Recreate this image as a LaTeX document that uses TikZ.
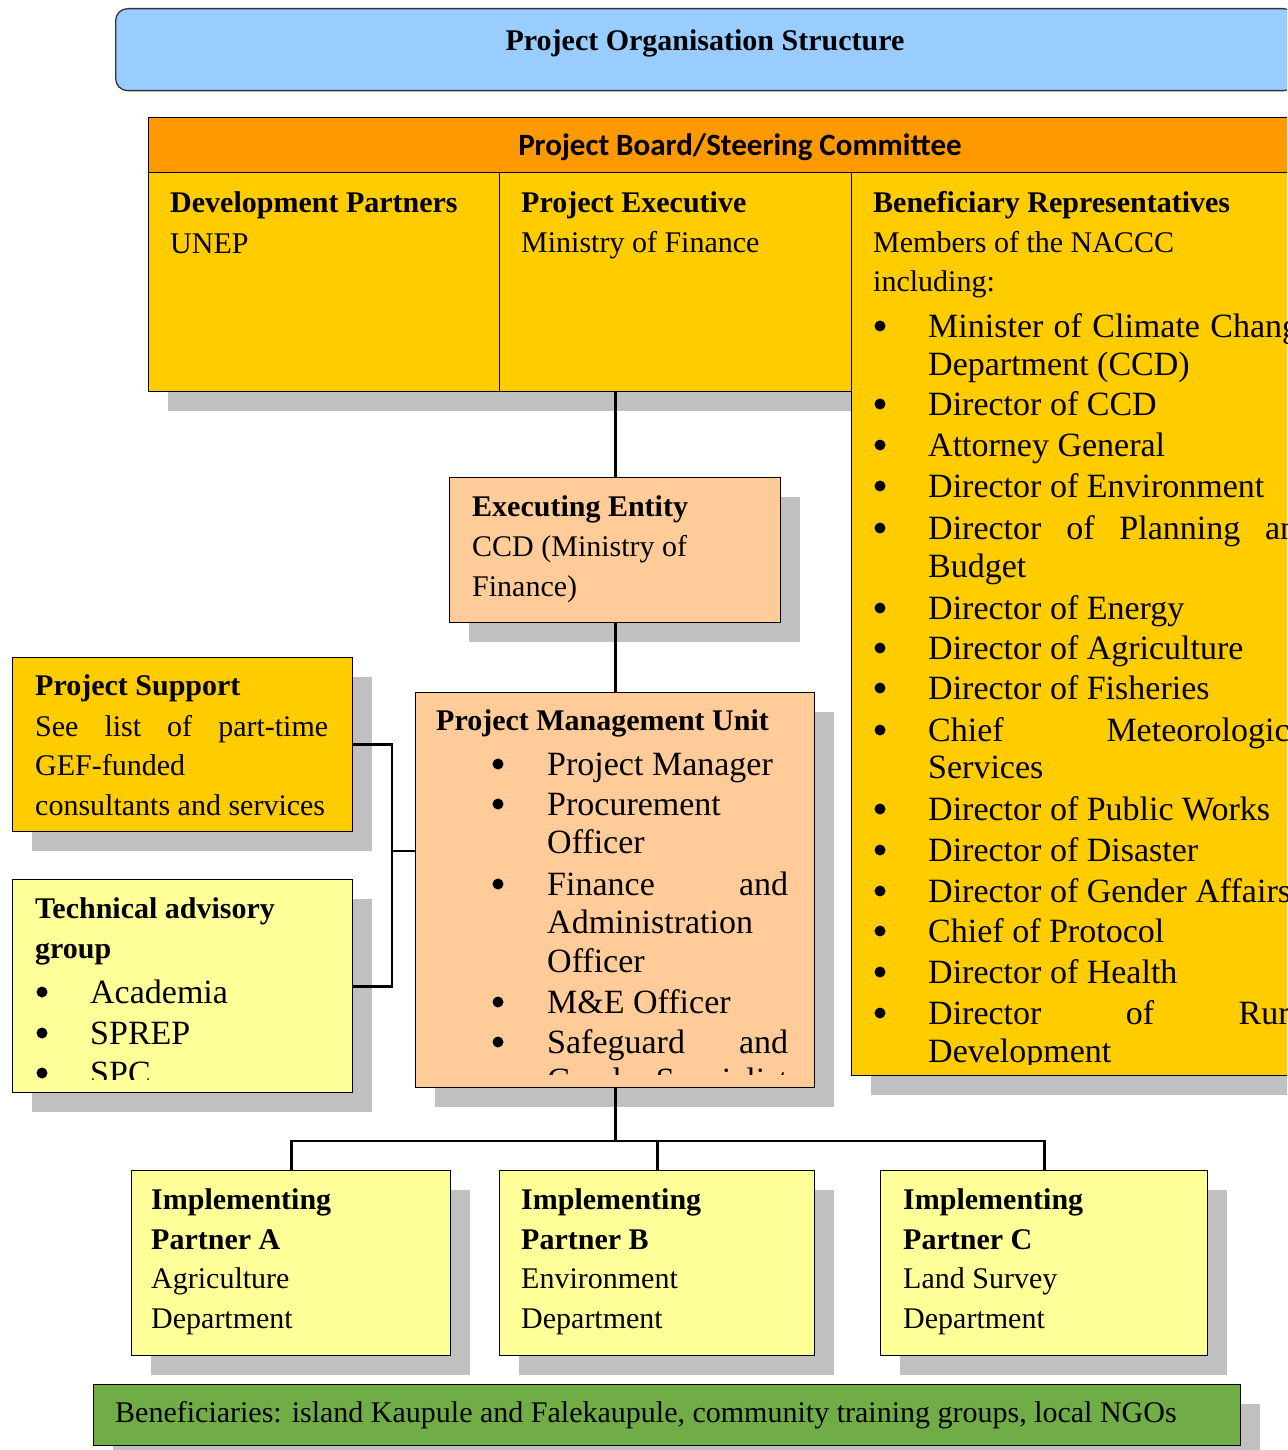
\documentclass[tikz,border=0pt]{standalone}
\usepackage{fontspec}
\setmainfont{Liberation Serif}
\newfontfamily\calibri{Carlito}
\usetikzlibrary{shadows}
\definecolor{skyblue}{HTML}{99CCFF}
\definecolor{boardorange}{HTML}{FF9900}
\definecolor{gold}{HTML}{FFCC00}
\definecolor{peach}{HTML}{FFCC99}
\definecolor{paleyellow}{HTML}{FFFF99}
\definecolor{leafgreen}{HTML}{70AD47}
\definecolor{shadowgray}{HTML}{C0C0C0}
% justified line of a given width
\newcommand{\jl}[2]{\makebox[#1pt][s]{#2}}
\begin{document}
\begin{tikzpicture}[x=1pt,y=-1pt,
  boxshadow/.style={general shadow={fill=shadowgray,shadow xshift=19pt,shadow yshift=-19pt}},
  box/.style={draw=black,line width=1.3pt,anchor=north west,inner sep=0pt,boxshadow},
  lbl/.style={anchor=base west,inner sep=0pt},
  hd/.style={lbl,font=\fontsize{30}{36}\selectfont\bfseries},
  tx/.style={lbl,font=\fontsize{30}{36}\selectfont},
  item/.style={lbl,font=\fontsize{34}{40}\selectfont},
  dot/.style={circle,fill=black,inner sep=0pt,minimum size=11pt},
  link/.style={draw=black,line width=2.8pt}]
\clip (0,0) rectangle (1287,1450);
\fill[white] (0,0) rectangle (1287,1450);

% title and board
\node[draw=black!80,line width=1.3pt,fill=skyblue,rounded corners=12pt,anchor=north west,
  minimum width=1180pt,minimum height=82pt] (title) at (115,8) {};
\node[lbl,anchor=base,font=\fontsize{30}{36}\selectfont\bfseries] (titletxt) at (705,51) {Project Organisation Structure};
\node[box,fill=boardorange,minimum width=1184pt,minimum height=55pt] (board) at (148,117) {};
\node[lbl,anchor=base,font=\calibri\bfseries\fontsize{31}{36}\selectfont] (boardtxt) at (740,156) {Project Board/Steering Committee};
\node[box,fill=gold,minimum width=351pt,minimum height=219pt] (devp) at (148,172) {};
\node[box,fill=gold,minimum width=352pt,minimum height=219pt] (pexec) at (499,172) {};
\node[box,fill=gold,minimum width=481pt,minimum height=903pt] (bene) at (851,172) {};

\node[hd] (devphd) at (170,212) {Development Partners};
\node[tx] (devptx) at (170,253) {UNEP};
\node[hd] (pexechd) at (521,212) {Project Executive};
\node[tx] (pexectx) at (521,252) {Ministry of Finance};
\node[hd] (benehd) at (873,212) {Beneficiary Representatives};
\node[tx] (benetx) at (873,252) {Members of the NACCC};
\node[tx] (benetx2) at (873,291) {including:};
\begin{scope}
\clip (bene.north west) rectangle ([yshift=12pt]bene.south east);
\foreach \y/\t in {337/{\jl{386}{Minister of Climate Change}},375/{Department (CCD)},415/{Director of CCD},
  456/{Attorney General},497/{Director of Environment},539/{\jl{386}{Director of Planning and}},577/Budget,
  619/{Director of Energy},659/{Director of Agriculture},699/{Director of Fisheries},
  741/{\jl{386}{Chief Meteorological}},778/Services,820/{Director of Public Works},861/{Director of Disaster},
  902/{Director of Gender Affairs},942/{Chief of Protocol},983/{Director of Health},
  1024/{\jl{386}{Director of Rural}},1062/Development}
  \node[item] (br\y) at (928,\y) {\t};
\foreach \y in {337,415,456,497,539,619,659,699,741,820,861,902,942,983,1024}
  \node[dot] (bd\y) at (880,\y-11) {};
\end{scope}

% executing entity
\node[box,fill=peach,minimum width=331pt,minimum height=145pt] (exent) at (449,477) {};
\node[hd] (exenthd) at (472,516) {Executing Entity};
\node[tx] (exenttx) at (472,556) {CCD (Ministry of};
\node[tx] (exenttx2) at (472,596) {Finance)};

% support and advisory
\node[box,fill=gold,minimum width=340pt,minimum height=174pt] (ps) at (12,657) {};
\node[hd] (pshd) at (35,695) {Project Support};
\node[tx] (pstx) at (35,736) {\jl{293}{See list of part-time}};
\node[tx] (pstx2) at (35,775) {GEF-funded};
\node[tx] (pstx3) at (35,815) {consultants and services};

\node[box,fill=paleyellow,minimum width=340pt,minimum height=213pt] (tag) at (12,879) {};
\node[hd] (taghd) at (35,918) {Technical advisory};
\node[hd] (taghd2) at (35,958) {group};
\begin{scope}
\clip (tag.north west) rectangle ([yshift=14pt]tag.south east);
\foreach \y/\t in {1003/Academia,1044/SPREP,1084/SPC}{
  \node[item] (tg\y) at (90,\y) {\t};
  \node[dot] (td\y) at (42,\y-11) {};}
\end{scope}

% management unit
\node[box,fill=peach,minimum width=399pt,minimum height=395pt] (pmu) at (415,692) {};
\node[hd] (pmuhd) at (436,730) {Project Management Unit};
\begin{scope}
\clip (pmu.north west) rectangle ([yshift=14pt]pmu.south east);
\foreach \y/\t in {775/{Project Manager},815/Procurement,853/Officer,895/{\jl{241}{Finance and}},
  933/Administration,972/Officer,1013/{M\&E Officer},1053/{\jl{241}{Safeguard and}},1091/{Gender Specialist}}
  \node[item] (pm\y) at (547,\y) {\t};
\foreach \y in {775,815,895,1013,1053}
  \node[dot] (pd\y) at (498,\y-11) {};
\end{scope}

% implementing partners
\node[box,fill=paleyellow,minimum width=319pt,minimum height=185pt] (ipA) at (131,1170) {};
\node[box,fill=paleyellow,minimum width=315pt,minimum height=185pt] (ipB) at (499,1170) {};
\node[box,fill=paleyellow,minimum width=327pt,minimum height=185pt] (ipC) at (880,1170) {};
\foreach \n/\x/\p/\a/\b in {A/151/A/Agriculture/Department,B/521/B/Environment/Department,C/903/C/Land Survey/Department}{
  \node[hd] (ip\n1) at (\x,1209) {Implementing};
  \node[hd] (ip\n2) at (\x,1249) {Partner \p};
  \node[tx] (ip\n3) at (\x,1288) {\a};
  \node[tx] (ip\n4) at (\x,1328) {\b};}

\node[box,fill=leafgreen,minimum width=1147pt,minimum height=61pt] (benef) at (93,1384) {};
\node[tx] (beneftx) at (115,1422) {Beneficiaries: island Kaupule and Falekaupule, community training groups, local NGOs};

% connectors
\draw[link] (pexec.south -| exent.north) -- (exent.north);
\draw[link] (exent.south) -- (pmu.north);
\coordinate (lbus) at (392,851);
\draw[link] (ps.east) -| (lbus) |- (tag.east);
\draw[link] (lbus) -- (lbus -| pmu.west);
\coordinate (fork) at (pmu.south |- 0,1141);
\draw[link] (pmu.south) -- (fork);
\draw[link] (ipA.north) -- ++(0,-29) -| (ipC.north);
\draw[link] (ipB.north) -- ++(0,-29);
\end{tikzpicture}
\end{document}
